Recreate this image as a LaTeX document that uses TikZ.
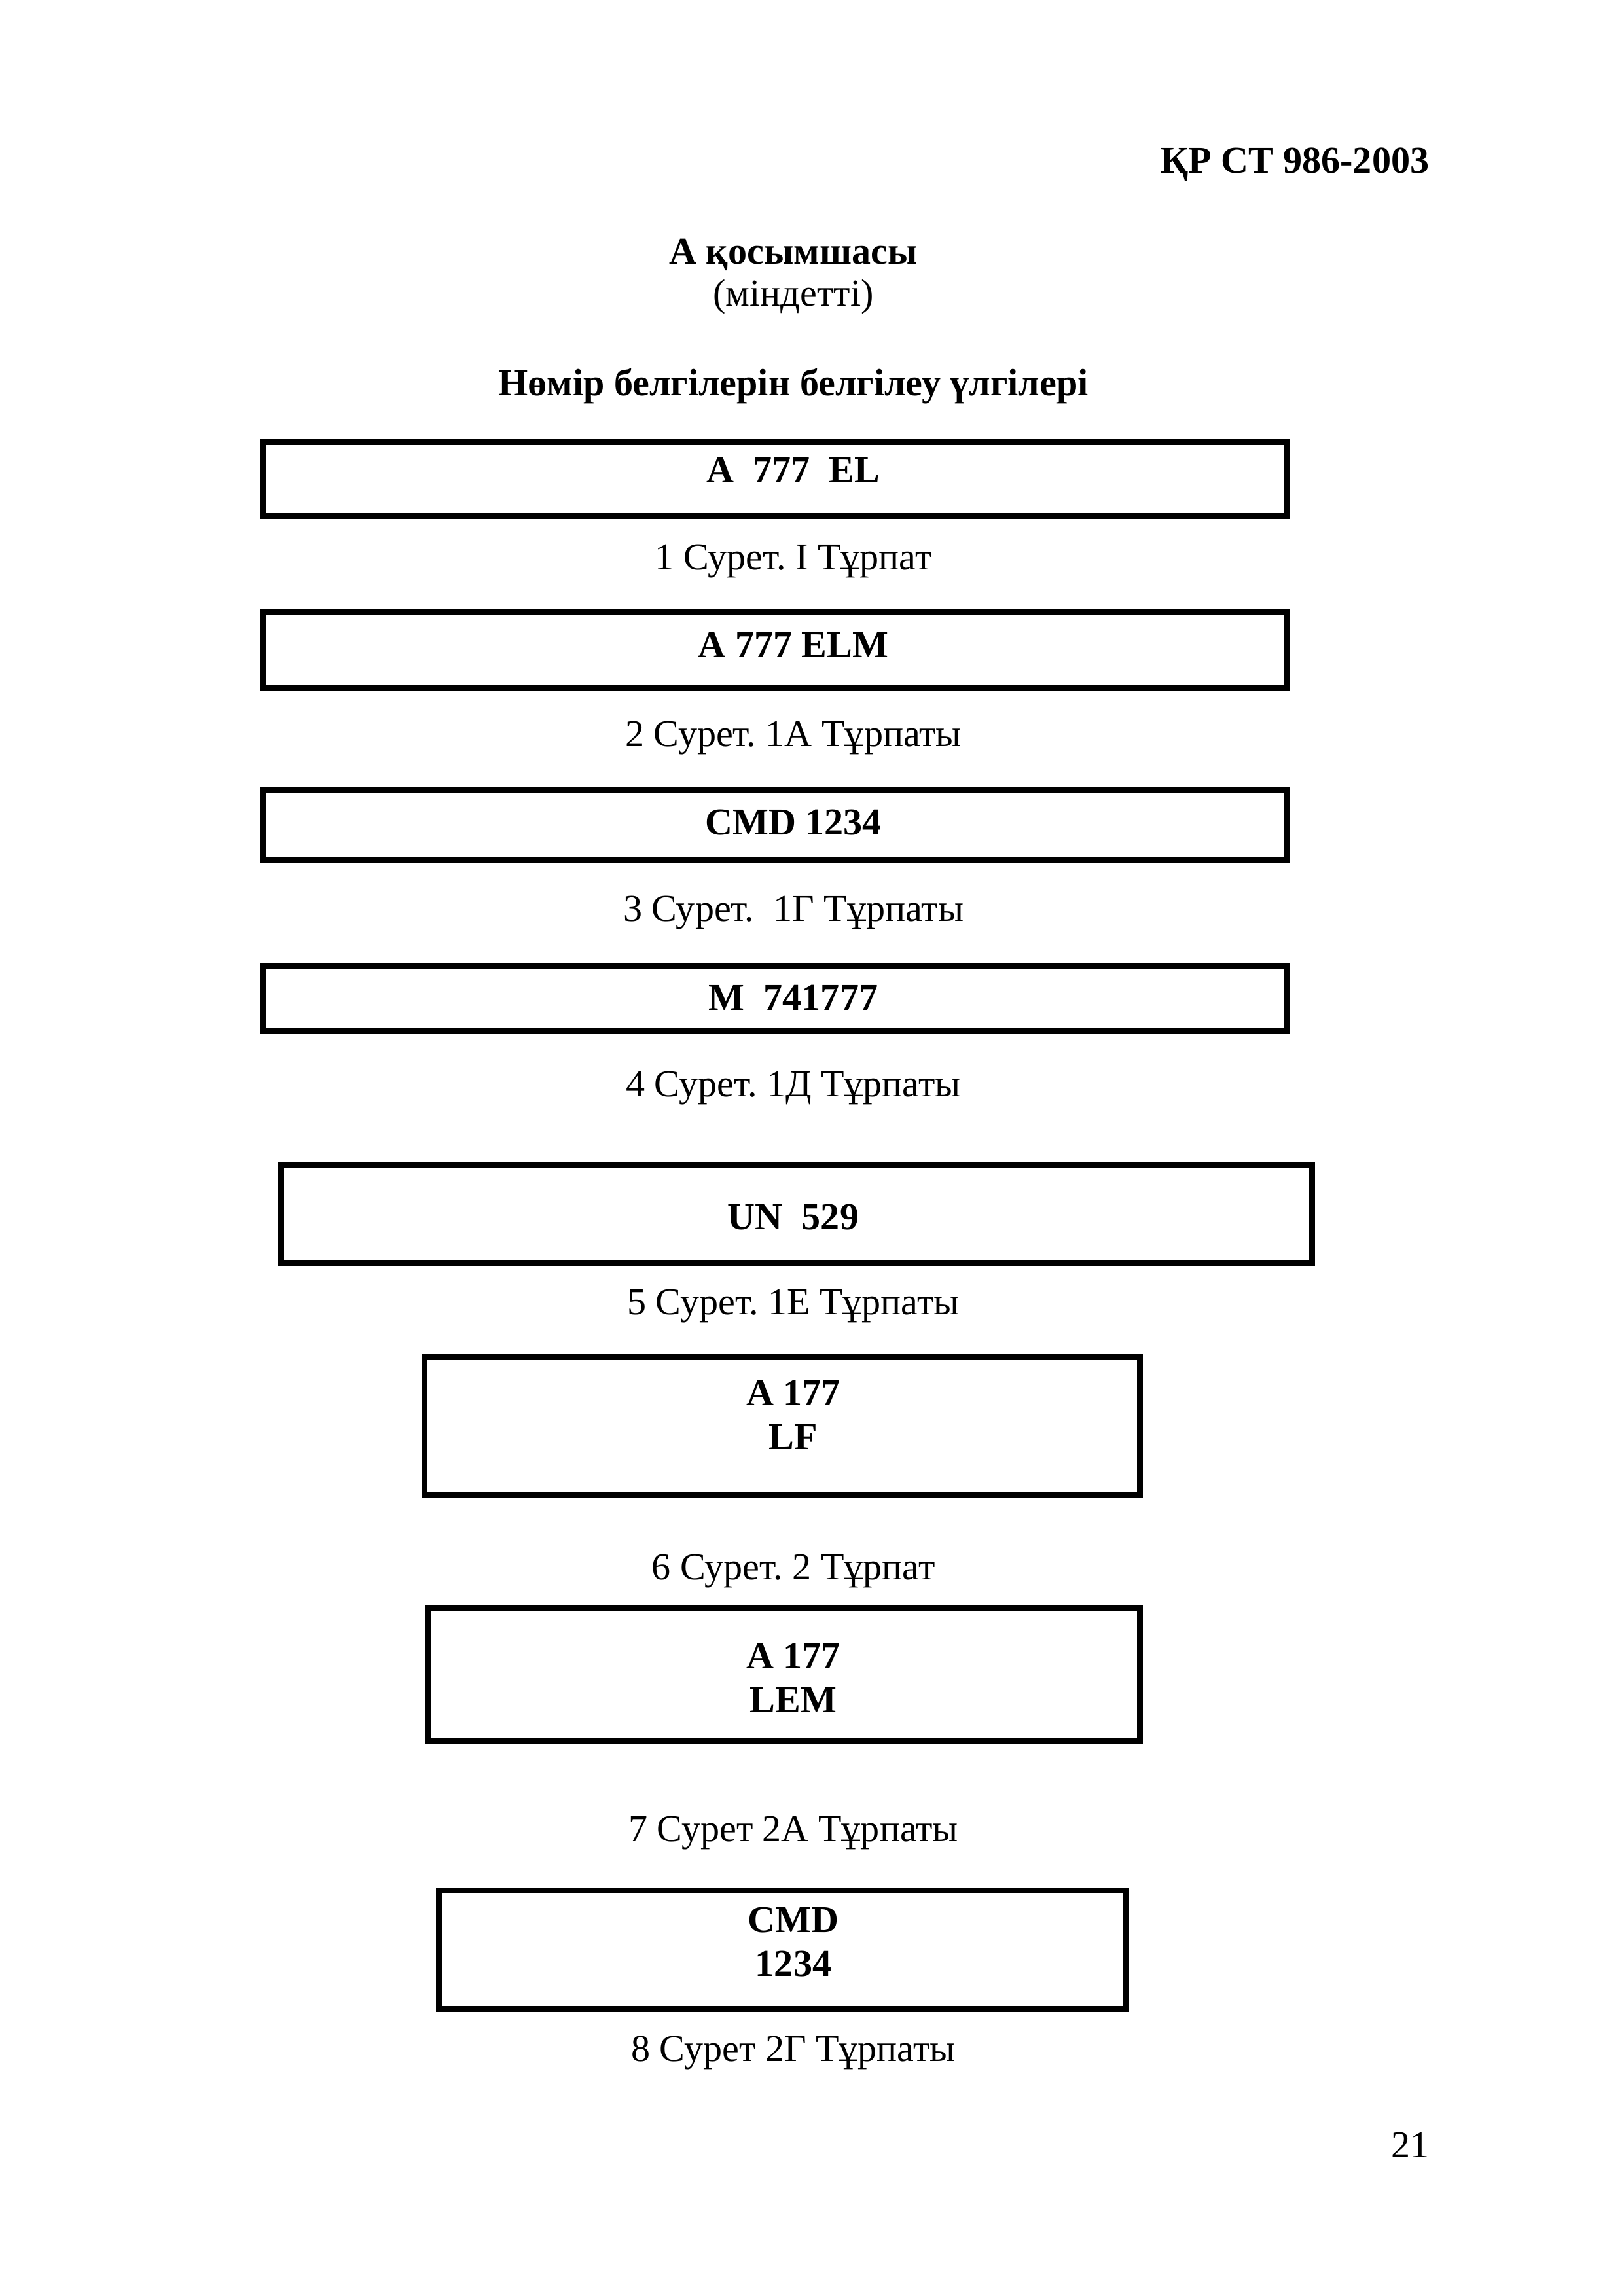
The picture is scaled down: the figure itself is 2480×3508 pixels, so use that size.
\documentclass[tikz,border=0pt]{standalone}
\usepackage{fontspec}
\setmainfont{Liberation Serif}
\frenchspacing
\newdimen\pxu
\pxu=0.0084677cm
\tikzset{
  plate/.style={draw=black, line width=9\pxu, rectangle, inner sep=0pt, fill=white},
  platetext/.style={anchor=base, inner sep=0pt, font=\fontsize{14}{16}\selectfont\bfseries},
  caption/.style={anchor=base, inner sep=0pt, font=\fontsize{14}{16}\selectfont},
  headtext/.style={anchor=base, inner sep=0pt, font=\fontsize{14}{16}\selectfont\bfseries}
}
\begin{document}
\frenchspacing
\begin{tikzpicture}[x=0.0084677cm, y=-0.0084677cm]
\useasboundingbox[fill=white] (0,0) rectangle (2480,3508);

% header
\node[headtext, anchor=base east] (hdr) at (2184,264) {ҚР СТ 986-2003};
\node[headtext] (annex) at (1212,403) {А қосымшасы};
\node[caption] (oblig) at (1212,467) {(міндетті)};
\node[headtext] (title) at (1212,604) {Нөмір белгілерін белгілеу үлгілері};

% plates
\node[plate, minimum width=1565\pxu, minimum height=113\pxu] (b1) at (1184,732) {};
\node[platetext] (t1) at (1212,737) {A~~777~~EL};
\node[caption] (c1) at (1212,870) {1 Сурет. I Тұрпат};

\node[plate, minimum width=1565\pxu, minimum height=115\pxu] (b2) at (1184,993) {};
\node[platetext] (t2) at (1212,1004) {A 777 ELM};
\node[caption] (c2) at (1212,1140) {2 Сурет. 1А Тұрпаты};

\node[plate, minimum width=1565\pxu, minimum height=107\pxu] (b3) at (1184,1260) {};
\node[platetext] (t3) at (1212,1275) {CMD 1234};
\node[caption] (c3) at (1212,1407) {3 Сурет.~~1Г Тұрпаты};

\node[plate, minimum width=1565\pxu, minimum height=100\pxu] (b4) at (1184,1525.5) {};
\node[platetext] (t4) at (1212,1543) {M~~741777};
\node[caption] (c4) at (1212,1675) {4 Сурет. 1Д Тұрпаты};

\node[plate, minimum width=1575\pxu, minimum height=150\pxu] (b5) at (1217,1854.5) {};
\node[platetext] (t5) at (1212,1878) {UN~~529};
\node[caption] (c5) at (1212,2008) {5 Сурет. 1Е Тұрпаты};

\node[plate, minimum width=1093\pxu, minimum height=211\pxu] (b6) at (1195,2179) {};
\node[platetext] (t6a) at (1212,2147) {A 177};
\node[platetext] (t6b) at (1212,2214) {LF};
\node[caption] (c6) at (1212,2413) {6 Сурет. 2 Тұрпат};

\node[plate, minimum width=1087\pxu, minimum height=204\pxu] (b7) at (1198,2558) {};
\node[platetext] (t7a) at (1212,2549) {A 177};
\node[platetext] (t7b) at (1212,2616) {LEM};
\node[caption] (c7) at (1212,2813) {7 Сурет 2А Тұрпаты};

\node[plate, minimum width=1050\pxu, minimum height=181\pxu] (b8) at (1195.5,2979) {};
\node[platetext] (t8a) at (1212,2952) {CMD};
\node[platetext] (t8b) at (1212,3019) {1234};
\node[caption] (c8) at (1212,3149) {8 Сурет 2Г Тұрпаты};

% page number
\node[caption, anchor=base east] (pg) at (2184,3296) {21};
\end{tikzpicture}
\end{document}
